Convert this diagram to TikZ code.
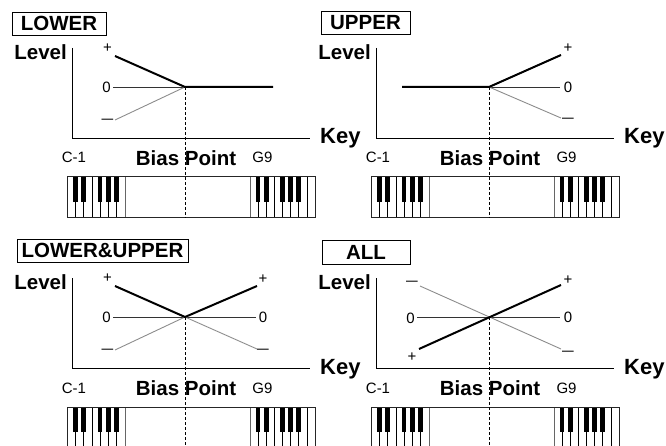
\documentclass[tikz,border=0pt]{standalone}
\usepackage{fontspec}
\setmainfont{Liberation Sans}
\usetikzlibrary{positioning}

\tikzset{
    axis/.style={draw=black, line width=0.9pt},
    thickline/.style={draw=black, line width=2pt},
    zeroline/.style={draw=black!80, line width=0.9pt},
    minusline/.style={draw=black!45, line width=0.9pt},
    biasline/.style={draw=black, line width=0.9pt, dash pattern=on 3pt off 2pt},
    titlebox/.style={draw, line width=0.8pt, inner sep=0pt, minimum height=23pt, font=\bfseries\fontsize{20.5}{20.5}\selectfont},
    axislabel/.style={inner sep=0pt, font=\bfseries\fontsize{20.5}{20.5}\selectfont},
    keylabel/.style={inner sep=0pt, font=\bfseries\fontsize{22}{22}\selectfont},
    small/.style={inner sep=0pt, font=\fontsize{15}{15}\selectfont},
    kbframe/.style={draw=black!85, line width=1pt},
    keyline/.style={draw=black, line width=0.6pt},
    sectline/.style={draw=black!60, line width=1pt}
}

% common parts of one panel: axes, labels, keyboard, bias line
\newcommand{\biasframe}{%
    \coordinate (ytop) at (72,48);
    \coordinate (orig) at (72,138);
    \coordinate (xend) at (310,138);
    \coordinate (bias) at (185,87);
    \draw[axis] (ytop) -- (orig) -- (xend);
    \node[axislabel, anchor=base east] (level) at (67,59.5) {Level};
    \node[keylabel, anchor=base west] (key) at (320,144) {Key};
    \node[small, anchor=base] (low) at (74,163) {C-1};
    \node[small, anchor=base] (high) at (262.5,163) {G9};
    \node[axislabel, anchor=base] (bpt) at (186,165.5) {Bias Point};
    % keyboard
    \fill[white] (67,177) rectangle (315,218);
    \foreach \k in {1,...,6}
        \draw[keyline] ({67+\k*58/7},177) -- ++(0,41);
    \foreach \k in {1,2,4,5,6}
        \fill[black] ({67+\k*58/7-2.3},177) rectangle ++(4.6,25);
    \foreach \k in {1,...,7}
        \draw[keyline] ({250+\k*65/8},177) -- ++(0,41);
    \foreach \k in {1,2,4,5,6}
        \fill[black] ({250+\k*65/8-2.3},177) rectangle ++(4.6,25);
    \draw[sectline] (125,177) -- ++(0,41);
    \draw[sectline] (250,177) -- ++(0,41);
    \draw[kbframe] (67,177) rectangle (315,218);
    \coordinate (kbend) at (185,218);
    \draw[biasline] (bias) -- (kbend);
}
\newcommand{\mdash}{\scalebox{1.4}[1]{\textendash}}

\begin{document}
\begin{tikzpicture}[x=1pt, y=-1pt]
    \useasboundingbox (0,0) rectangle (666,446);
    \clip (0,0) rectangle (666,446);

    % LOWER
    \begin{scope}
        \biasframe
        \node[titlebox, minimum width=94pt] (title) at (59,23.5) {LOWER};
        \coordinate (pL) at (115,56);
        \coordinate (zL) at (113,87);
        \coordinate (mL) at (115,120);
        \coordinate (flat) at (273,87);
        \node[small] (plusL) at (107.5,48.5) {+};
        \node[small] (zeroL) at (106.5,87) {0};
        \node[small] (minusL) at (107.5,121) {\mdash};
        \draw[zeroline] (zL) -- (bias);
        \draw[minusline] (mL) -- (bias);
        \draw[thickline] (pL) -- (bias) -- (flat);
    \end{scope}

    % UPPER
    \begin{scope}[shift={(304,0)}]
        \biasframe
        \node[titlebox, minimum width=89pt] (title) at (61.5,22.5) {UPPER};
        \coordinate (pR) at (257,55);
        \coordinate (zR) at (256,87);
        \coordinate (mR) at (257,118);
        \coordinate (flat) at (98,87);
        \node[small] (plusR) at (264,48.5) {+};
        \node[small] (zeroR) at (264,87) {0};
        \node[small] (minusR) at (264,120) {\mdash};
        \draw[zeroline] (bias) -- (zR);
        \draw[minusline] (bias) -- (mR);
        \draw[thickline] (flat) -- (bias) -- (pR);
    \end{scope}

    % LOWER&UPPER
    \begin{scope}[shift={(0,230)}]
        \biasframe
        \node[titlebox, minimum width=171pt] (title) at (102.5,20.5) {LOWER\&UPPER};
        \coordinate (pL) at (115,56);
        \coordinate (zL) at (113,87);
        \coordinate (mL) at (115,120);
        \coordinate (pR) at (257,56);
        \coordinate (zR) at (256,87);
        \coordinate (mR) at (257,119);
        \node[small] (plusL) at (107.5,48.5) {+};
        \node[small] (zeroL) at (106.5,87) {0};
        \node[small] (minusL) at (107.5,121) {\mdash};
        \node[small] (plusR) at (263,49.5) {+};
        \node[small] (zeroR) at (263,87) {0};
        \node[small] (minusR) at (263,121) {\mdash};
        \draw[zeroline] (zL) -- (zR);
        \draw[minusline] (mL) -- (bias) -- (mR);
        \draw[thickline] (pL) -- (bias) -- (pR);
    \end{scope}

    % ALL
    \begin{scope}[shift={(304,230)}]
        \biasframe
        \node[titlebox, minimum width=88pt, minimum height=24pt] (title) at (62,22) {ALL};
        \coordinate (mL) at (116,56);
        \coordinate (zL) at (113,87);
        \coordinate (pL) at (115,119);
        \coordinate (pR) at (257,55);
        \coordinate (zR) at (256,87);
        \coordinate (mR) at (257,119);
        \node[small] (minusL) at (108,53) {\mdash};
        \node[small] (zeroL) at (106.5,88) {0};
        \node[small] (plusL) at (108,127) {+};
        \node[small] (plusR) at (264,50) {+};
        \node[small] (zeroR) at (264,87) {0};
        \node[small] (minusR) at (264,123) {\mdash};
        \draw[zeroline] (zL) -- (zR);
        \draw[minusline] (mL) -- (mR);
        \draw[thickline] (pL) -- (pR);
    \end{scope}
\end{tikzpicture}
\end{document}
